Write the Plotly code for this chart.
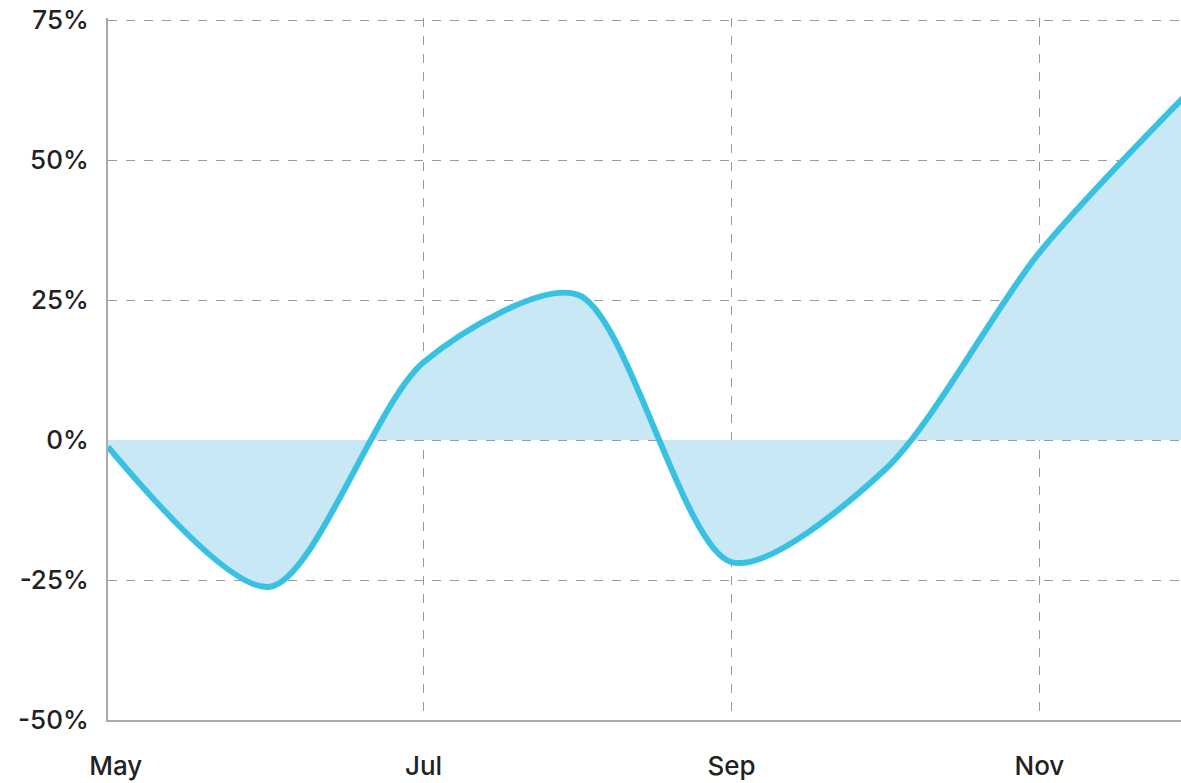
import plotly.graph_objects as go

# Month index positions (May = 0) and values in percent
month_pos = [-0.05, 1, 2, 3, 4, 5, 6, 7]
values = [-1.2, -26.2, 13.9, 26.0, -21.8, -5.2, 33.5, 63.0]

tick_pos = [0, 2, 4, 6]
tick_text = ["May", "Jul", "Sep", "Nov"]
grid_pos = [2, 4, 6]

y_ticks = [-50, -25, 0, 25, 50, 75]
y_text = ["-50%", "-25%", "0%", "25%", "50%", "75%"]

LINE = "#38c1e1"
FILL = "#c9e8f5"
FONT = "Inter"

fig = go.Figure()
fig.add_trace(go.Scatter(
    x=month_pos, y=values, mode="lines",
    line=dict(color=LINE, width=6, shape="spline", smoothing=0.8),
    fill="tozeroy", fillcolor=FILL, hoverinfo="skip",
))

fig.update_layout(
    width=1181, height=783, autosize=False,
    margin=dict(l=108, r=0, t=18, b=63),
    paper_bgcolor="white", plot_bgcolor="white",
    showlegend=False,
    font=dict(family=FONT, size=26, color="#222222"),
)
fig.update_xaxes(
    range=[-0.05, 6.92], tickvals=tick_pos, ticktext=tick_text,
    showgrid=False,
    minor=dict(tickvals=grid_pos, showgrid=True, gridcolor="#9a9a9a",
               griddash="dash", gridwidth=1, ticks=""),
    showline=True, linecolor="#aaaaaa", linewidth=2,
    zeroline=False, ticks="", ticklabelstandoff=22,
    tickfont=dict(family=FONT, size=26, color="#222222", weight=500),
)
fig.update_yaxes(
    range=[-50, 75.4], tickvals=y_ticks, ticktext=y_text,
    showgrid=True, gridcolor="#9a9a9a", griddash="dash", gridwidth=1,
    showline=True, linecolor="#aaaaaa", linewidth=2,
    zeroline=False, ticks="", ticklabelstandoff=12,
    tickfont=dict(family=FONT, size=26, color="#222222", weight=500),
)

fig.write_html(
    "out.html",
    config={"responsive": False, "displayModeBar": False},
    post_script="document.body.style.margin='0';document.body.style.overflow='hidden';",
)
